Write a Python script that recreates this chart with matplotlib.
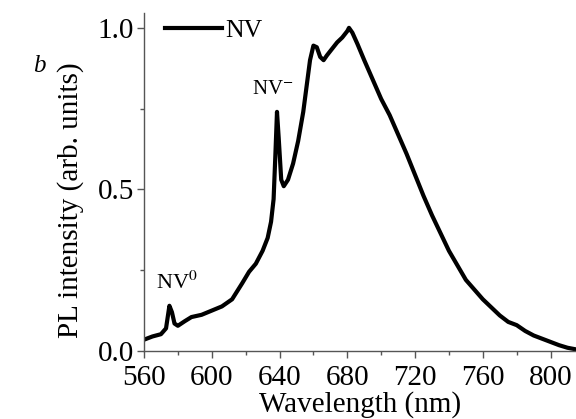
import matplotlib.pyplot as plt
from matplotlib.ticker import MultipleLocator

# PL spectrum of NV centres
wavelength = [560, 565, 570, 573, 575, 576.5, 578, 580, 584, 588, 594, 600,
              606, 612, 618, 622, 626, 630, 633, 635, 636.5, 637.5, 638.5,
              639.5, 641, 642.5, 645, 648, 651, 654, 656, 658, 660, 662, 664,
              666, 668, 671, 674, 677, 680, 681, 683, 686, 690, 695, 700, 705,
              710, 715, 720, 725, 730, 735, 740, 745, 750, 755, 760, 765, 770,
              775, 780, 785, 790, 795, 800, 805, 810, 815]
intensity = [0.035, 0.045, 0.052, 0.07, 0.14, 0.12, 0.085, 0.078, 0.092, 0.105,
             0.112, 0.125, 0.138, 0.16, 0.21, 0.245, 0.27, 0.31, 0.35, 0.40,
             0.47, 0.60, 0.74, 0.66, 0.53, 0.51, 0.53, 0.58, 0.65, 0.74, 0.82,
             0.90, 0.945, 0.94, 0.91, 0.90, 0.915, 0.935, 0.955, 0.97, 0.99,
             1.0, 0.985, 0.95, 0.90, 0.84, 0.78, 0.73, 0.67, 0.61, 0.545, 0.48,
             0.42, 0.365, 0.31, 0.265, 0.22, 0.19, 0.16, 0.135, 0.11, 0.09,
             0.08, 0.062, 0.048, 0.038, 0.028, 0.018, 0.01, 0.005]

plt.rcParams["font.family"] = ["Liberation Serif", "DejaVu Serif"]
plt.rcParams["mathtext.fontset"] = "stix"

fig = plt.figure(figsize=(5.76, 4.19), dpi=100)
ax = fig.add_axes([0.25, 0.1623, 0.75, 0.8067])

ax.plot(wavelength, intensity, color="black", lw=3.0, label="NV")

ax.set_xlim(560, 815)
ax.set_ylim(0, 1.046)
ax.xaxis.set_major_locator(MultipleLocator(40))
ax.xaxis.set_minor_locator(MultipleLocator(20))
ax.yaxis.set_major_locator(MultipleLocator(0.5))
ax.yaxis.set_minor_locator(MultipleLocator(0.25))
ax.yaxis.set_major_formatter(lambda v, p: f"{v:.1f}")

for s in ["top", "right"]:
    ax.spines[s].set_visible(False)
for s in ["left", "bottom"]:
    ax.spines[s].set_color("#555555")
    ax.spines[s].set_linewidth(1.0)

ax.tick_params(which="major", length=5, width=1, color="#555555",
               labelsize=21)
ax.tick_params(axis="x", which="major", pad=5)
ax.tick_params(axis="y", which="major", pad=2)
ax.tick_params(which="minor", length=3, width=1, color="#555555")

ax.set_xlabel("Wavelength (nm)", fontsize=21, labelpad=0)
ax.set_ylabel("PL intensity (arb. units)", fontsize=21)
ax.yaxis.set_label_coords(-0.14, 0.445)

ax.text(579.5, 0.21, r"NV$^{0}$", fontsize=16, ha="center", va="center")
ax.text(636, 0.81, r"NV$^{-}$", fontsize=15, ha="center", va="center")
fig.text(0.069, 0.842, "b", fontsize=18, style="italic", ha="center",
         va="center")

ax.legend(loc="upper left", frameon=False, fontsize=18.5, handlelength=2.2,
          handletextpad=0.15, borderaxespad=0.0, bbox_to_anchor=(0.025, 1.012))

fig.savefig("out.png", dpi=100)
